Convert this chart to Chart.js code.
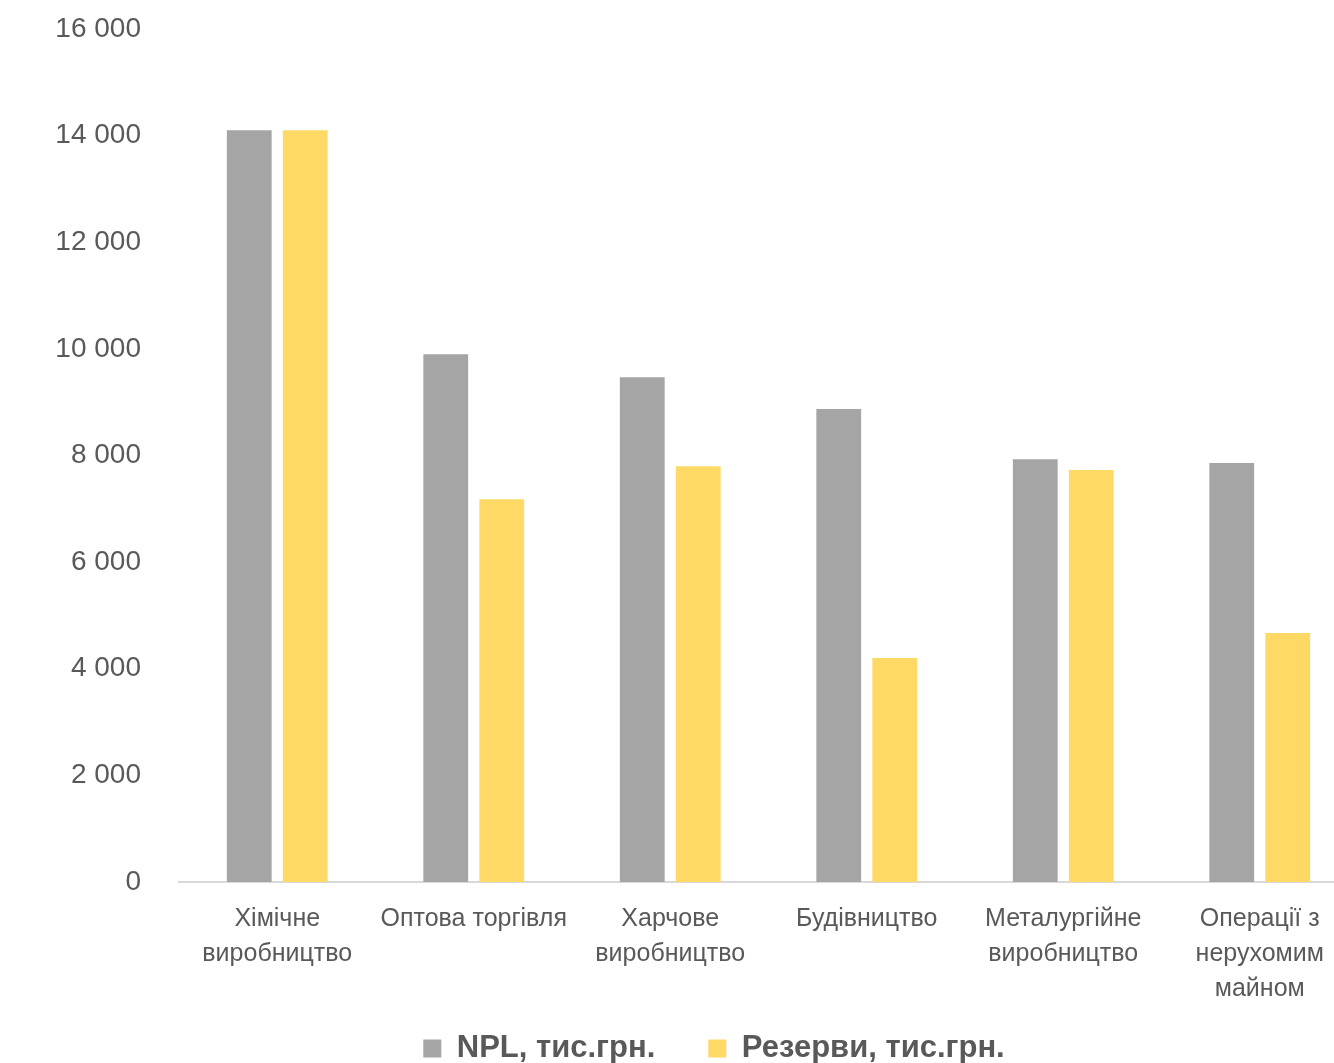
<!DOCTYPE html>
<html lang="uk">
<head>
<meta charset="utf-8">
<title>NPL та резерви</title>
<script src="https://cdn.jsdelivr.net/npm/chart.js@4/dist/chart.umd.min.js"></script>
<style>
    html, body { margin: 0; padding: 0; background: #fff; overflow: hidden; }
    /* the plot area runs past the right edge of the picture, like the original */
    #wrap { width: 1358px; height: 1063px; }
</style>
</head>
<body>
<div id="wrap"><canvas id="chart-npl"></canvas></div>
<script>
// data
const categories = [
    ['Хімічне', 'виробництво'],
    ['Оптова торгівля'],
    ['Харчове', 'виробництво'],
    ['Будівництво'],
    ['Металургійне', 'виробництво'],
    ['Операції з', 'нерухомим', 'майном']
];
const seriesNames = ['NPL, тис.грн.', 'Резерви, тис.грн.'];
const nplValues = [14100, 9900, 9470, 8870, 7930, 7860];
const reserveValues = [14100, 7180, 7800, 4200, 7730, 4670];
const yTicks = [0, 2000, 4000, 6000, 8000, 10000, 12000, 14000, 16000];

const textColor = '#595959';
const fontFamily = '"Liberation Sans", Arial, sans-serif';

const formatTick = v => String(v).replace(/\B(?=(\d{3})+(?!\d))/g, ' ');

// legend sits right of centre and low in the original
const shiftLegend = {
    id: 'shiftLegend',
    afterLayout: chart => {
        const lg = chart.legend;
        lg.left += 35;
        lg.right += 35;
        lg.top -= 23;
    }
};

const ctx = document.getElementById('chart-npl').getContext('2d');
new Chart(ctx, {
    type: 'bar',
    data: {
        labels: categories,
        datasets: [{
            label: seriesNames[0],
            data: nplValues,
            backgroundColor: '#A5A5A5',
            categoryPercentage: 0.57,
            barPercentage: 0.8
        }, {
            label: seriesNames[1],
            data: reserveValues,
            backgroundColor: '#FFD966',
            categoryPercentage: 0.57,
            barPercentage: 0.8
        }]
    },
    plugins: [shiftLegend],
    options: {
        responsive: true,
        maintainAspectRatio: false,
        animation: false,
        layout: { padding: { top: 29, right: 0, bottom: 0, left: 0 } },
        plugins: {
            tooltip: { enabled: false },
            legend: {
                position: 'bottom',
                maxHeight: 60,
                labels: {
                    color: textColor,
                    font: { family: fontFamily, size: 31, weight: 'bold', lineHeight: 0.75 },
                    boxWidth: 18,
                    boxHeight: 18,
                    padding: 53
                }
            }
        },
        scales: {
            x: {
                grid: { display: false, drawTicks: false },
                border: { display: true, color: '#D9D9D9', width: 2 },
                ticks: {
                    color: textColor,
                    font: { family: fontFamily, size: 25, lineHeight: 1.4 },
                    padding: 20,
                    maxRotation: 0,
                    autoSkip: false
                },
                afterFit: scale => {
                    scale.height = 121;
                    scale.paddingLeft = 0;
                    scale.paddingRight = 0;
                }
            },
            y: {
                min: 0,
                max: 16000,
                afterBuildTicks: scale => { scale.ticks = yTicks.map(v => ({ value: v })); },
                grid: { display: false, drawTicks: false },
                border: { display: false },
                ticks: {
                    color: textColor,
                    font: { family: fontFamily, size: 28 },
                    padding: 38,
                    callback: v => formatTick(v)
                },
                afterFit: scale => {
                    scale.width = 179;
                    scale.paddingTop = 0;
                    scale.paddingBottom = 0;
                }
            }
        }
    }
});
</script>
</body>
</html>
